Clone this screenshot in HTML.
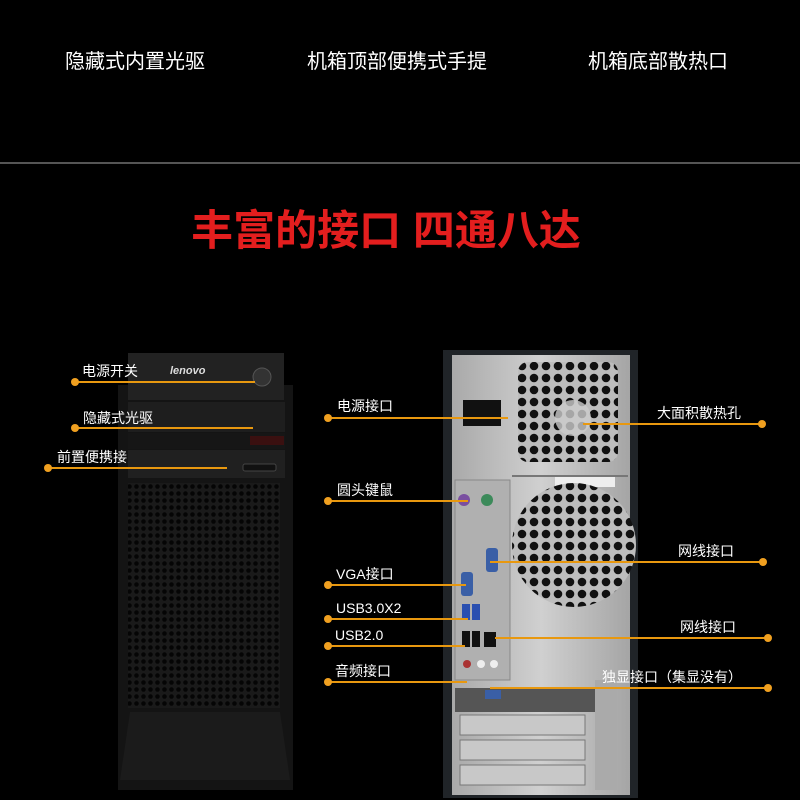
<!DOCTYPE html>
<html><head><meta charset="utf-8"><style>
html,body{margin:0;padding:0;background:#000;}
svg{display:block}
text{font-family:"Liberation Sans","Noto Sans CJK SC",sans-serif;}
</style></head><body>
<svg width="800" height="800" viewBox="0 0 800 800" xmlns="http://www.w3.org/2000/svg">
<defs>
<pattern id="mesh" width="7" height="7" patternUnits="userSpaceOnUse"><rect width="7" height="7" fill="#1a1a1a"/><circle cx="3.5" cy="3.5" r="2.3" fill="#050505"/></pattern>
<pattern id="hex" width="12" height="12" patternUnits="userSpaceOnUse"><rect width="12" height="12" fill="#bdbdbd"/><circle cx="6" cy="6" r="4.3" fill="#111"/></pattern>
<linearGradient id="silver" x1="0" x2="1"><stop offset="0" stop-color="#a9a9a9"/><stop offset="0.5" stop-color="#d0d0d0"/><stop offset="1" stop-color="#a5a5a5"/></linearGradient>
</defs>
<rect width="800" height="800" fill="#000"/>
<g fill="#fff" font-size="20">
<text x="65" y="68">隐藏式内置光驱</text>
<text x="307" y="68">机箱顶部便携式手提</text>
<text x="588" y="68">机箱底部散热口</text>
</g>
<rect x="0" y="162" width="800" height="2" fill="#555"/>
<text x="386" y="245" text-anchor="middle" fill="#e31e1e" font-size="42" font-weight="bold">丰富的接口 四通八达</text>

<!-- front tower -->
<rect x="118" y="385" width="175" height="405" fill="#141414"/>
<rect x="128" y="353" width="156" height="47" fill="#222"/>
<circle cx="262" cy="377" r="9" fill="#333" stroke="#555"/>
<rect x="128" y="402" width="157" height="30" fill="#1e1e1e"/>
<rect x="128" y="433" width="157" height="16" fill="#161616"/>
<rect x="250" y="436" width="34" height="9" fill="#3a1010"/>
<rect x="128" y="450" width="157" height="28" fill="#202020"/>
<rect x="243" y="464" width="33" height="7" rx="2" fill="#111" stroke="#444"/>
<rect x="128" y="483" width="152" height="225" fill="url(#mesh)"/>
<path d="M130 712 L280 712 L290 780 L120 780 Z" fill="#1b1b1b"/>
<text x="170" y="374" fill="#ddd" font-size="11" font-style="italic" font-weight="bold">lenovo</text>

<!-- back tower -->
<rect x="443" y="350" width="195" height="448" fill="#202428"/>
<rect x="452" y="355" width="178" height="440" fill="url(#silver)"/>
<rect x="518" y="362" width="100" height="100" rx="10" fill="url(#hex)"/>
<circle cx="573" cy="418" r="18" fill="#ccc" opacity="0.8"/>
<rect x="463" y="400" width="38" height="26" fill="#111"/>
<rect x="512" y="475" width="116" height="2" fill="#777"/>
<rect x="555" y="477" width="60" height="10" fill="#eee"/>
<circle cx="574" cy="545" r="62" fill="url(#hex)"/>
<rect x="455" y="480" width="55" height="200" fill="#b0b0b0" stroke="#888"/>
<circle cx="464" cy="500" r="6" fill="#7a4fa0"/><circle cx="487" cy="500" r="6" fill="#3c8a5a"/>
<rect x="486" y="548" width="12" height="24" rx="3" fill="#3a5fa6"/>
<rect x="461" y="572" width="12" height="24" rx="3" fill="#3a5fa6"/>
<rect x="462" y="604" width="8" height="16" fill="#2a4fb0"/><rect x="472" y="604" width="8" height="16" fill="#2a4fb0"/>
<rect x="462" y="631" width="8" height="16" fill="#111"/><rect x="472" y="631" width="8" height="16" fill="#111"/>
<rect x="484" y="632" width="12" height="15" fill="#111"/>
<circle cx="467" cy="664" r="4" fill="#a33"/><circle cx="481" cy="664" r="4" fill="#eee"/><circle cx="494" cy="664" r="4" fill="#eee"/>
<rect x="455" y="688" width="140" height="24" fill="#555"/>
<rect x="485" y="690" width="16" height="9" fill="#3a5fa6"/>
<rect x="460" y="715" width="125" height="20" fill="#c8c8c8" stroke="#777"/>
<rect x="460" y="740" width="125" height="20" fill="#c8c8c8" stroke="#777"/>
<rect x="460" y="765" width="125" height="20" fill="#c8c8c8" stroke="#777"/>
<rect x="595" y="680" width="22" height="110" fill="#aaa"/>

<!-- leader lines -->
<g stroke="#e8980f" stroke-width="2" fill="none">
<path d="M75 382H255M75 428H253M48 468H227"/>
<path d="M328 418H508M328 501H468M328 585H466M328 619H468M328 646H465M328 682H467"/>
<path d="M583 424H762M490 562H763M495 638H768M490 688H768"/>
</g>
<g fill="#f0a020">
<circle cx="75" cy="382" r="4"/><circle cx="75" cy="428" r="4"/><circle cx="48" cy="468" r="4"/>
<circle cx="328" cy="418" r="4"/><circle cx="328" cy="501" r="4"/><circle cx="328" cy="585" r="4"/><circle cx="328" cy="619" r="4"/><circle cx="328" cy="646" r="4"/><circle cx="328" cy="682" r="4"/>
<circle cx="762" cy="424" r="4"/><circle cx="763" cy="562" r="4"/><circle cx="768" cy="638" r="4"/><circle cx="768" cy="688" r="4"/>
</g>
<g fill="#fff" font-size="14">
<text x="82" y="376">电源开关</text>
<text x="83" y="423">隐藏式光驱</text>
<text x="57" y="462">前置便携接</text>
<text x="337" y="411">电源接口</text>
<text x="337" y="495">圆头键鼠</text>
<text x="336" y="579">VGA接口</text>
<text x="336" y="613">USB3.0X2</text>
<text x="335" y="640">USB2.0</text>
<text x="335" y="676">音频接口</text>
<text x="657" y="418">大面积散热孔</text>
<text x="678" y="556">网线接口</text>
<text x="680" y="632">网线接口</text>
<text x="602" y="682">独显接口（集显没有）</text>
</g>
</svg>
</body></html>
